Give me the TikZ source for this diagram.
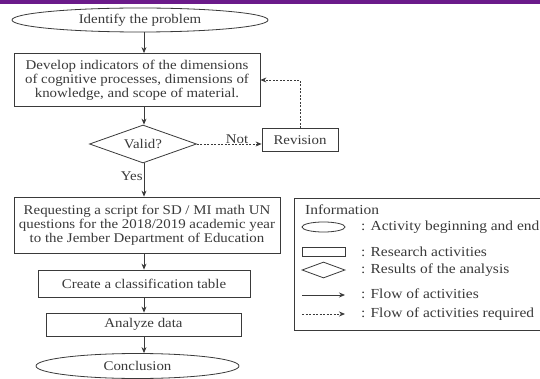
\documentclass[tikz,border=0pt]{standalone}
\usepackage{fontspec}
\setmainfont{Liberation Serif}[FakeStretch=1.12]
\usetikzlibrary{shapes.geometric,arrows.meta}
\definecolor{bandpurple}{HTML}{6B1A8A}
\definecolor{ink}{HTML}{3A3A3A}
\begin{document}
\begin{tikzpicture}[x=1pt,y=-1pt,
  every node/.style={font=\fontsize{13.3}{14}\selectfont, text=ink, inner sep=1pt},
  box/.style={draw=ink, line width=0.8pt, rectangle, align=center},
  oval/.style={draw=ink, line width=0.8pt, ellipse},
  decision/.style={draw=ink, line width=0.8pt, diamond, aspect=2.8},
  arr/.style={draw=ink, line width=0.8pt, -{Stealth[length=6pt,width=5pt]}},
  dasharr/.style={arr, dash pattern=on 2pt off 1.5pt},
  lab/.style={font=\fontsize{13.8}{14}\selectfont, anchor=west}
]
\useasboundingbox (0,0) rectangle (540,379);
\fill[white] (0,0) rectangle (540,379);
\fill[bandpurple] (0,0) rectangle (540,4);

\coordinate (axis) at (144,0);

\node[oval, minimum width=256, minimum height=24] (idf) at (140,20) {Identify the problem};
\node[box, minimum width=246, minimum height=53] (dev) at (137,80)
  {Develop indicators of the dimensions\\of cognitive processes, dimensions of\\knowledge, and scope of material.};
\node[decision, minimum width=107, minimum height=38] (valid) at (143,144) {Valid?};
\node[box, minimum width=76, minimum height=23] (rev) at (300,140) {Revision};
\node[box, minimum width=266, minimum height=56] (req) at (147,225)
  {Requesting a script for SD / MI math UN\\questions for the 2018/2019 academic year\\to the Jember Department of Education};
\node[box, minimum width=212, minimum height=27] (create) at (144,283.5) {Create a classification table};
\node[box, minimum width=195, minimum height=23] (analyze) at (143.5,324.5) {Analyze data};
\node[oval, minimum width=203, minimum height=25] (concl) at (137.5,366) {Conclusion};

\draw[arr] (idf.south -| axis) -- (dev.north -| axis);
\draw[arr] (dev.south -| axis) -- (valid.north -| axis);
\draw[arr] (valid.south -| axis) -- node[left, pos=0.4] (yes) {Yes} (req.north -| axis);
\draw[arr] (req.south -| axis) -- (create.north -| axis);
\draw[arr] (create.south -| axis) -- (analyze.north -| axis);
\draw[arr] (analyze.south -| axis) -- (concl.north -| axis);

\draw[dasharr] (valid.east) -- node[above, pos=0.62, inner sep=0pt] (not) {Not} (valid.east -| rev.west);
\draw[dasharr] (rev.north) |- (dev.east);

% legend
\node[draw=ink, line width=0.8pt, minimum width=252, minimum height=132, anchor=north west] (legend) at (294,198) {};
\node[lab] (info) at (304,210) {Information};
\node[oval, minimum width=43, minimum height=10, inner sep=0pt] (lg1) at (323.5,227) {};
\node[box, minimum width=43, minimum height=9, inner sep=0pt] (lg2) at (323.5,252) {};
\node[decision, aspect=2.7, minimum width=43, minimum height=16, inner sep=0pt] (lg3) at (323.5,270) {};
\coordinate (a1) at (302,295); \coordinate (a2) at (345,295);
\coordinate (b1) at (302,314); \coordinate (b2) at (345,314);
\draw[arr] (a1) -- (a2);
\draw[dasharr] (b1) -- (b2);
\node[lab] (t1) at (360,227) {: Activity beginning and end};
\node[lab] (t2) at (360,252) {: Research activities};
\node[lab] (t3) at (360,270) {: Results of the analysis};
\node[lab] (t4) at (360,294) {: Flow of activities};
\node[lab] (t5) at (360,314) {: Flow of activities required};
\end{tikzpicture}
\end{document}
